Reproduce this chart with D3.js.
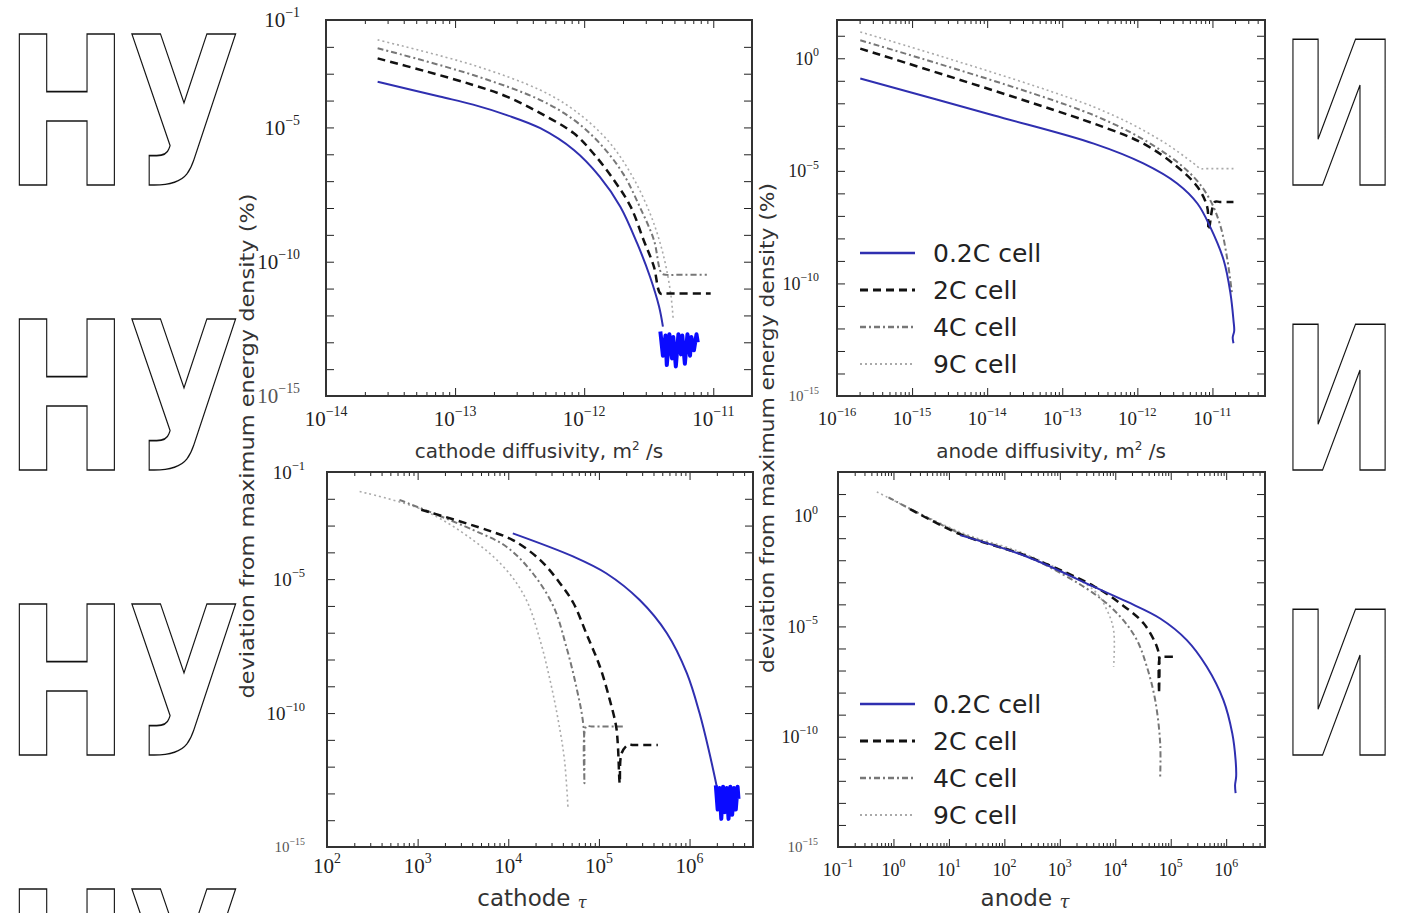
<!DOCTYPE html>
<html>
<head>
<meta charset="utf-8">
<script src="https://cdn.jsdelivr.net/npm/d3@7"></script>
<style>
body { margin: 0; background: #fff; }
svg { display: block; }
</style>
</head>
<body>
<div id="chart"></div>
<script>
// every point is [log10(x), log10(y)]
var seriesNames = ["0.2C cell", "2C cell", "4C cell", "9C cell"];

// cathode diffusivity panel
var cathodeD_02 = [[-13.6,-3.30],[-13.12,-3.85],[-12.86,-4.15],[-12.6,-4.54],[-12.34,-5.03],[-12.08,-5.84],[-11.88,-6.83],[-11.72,-7.95],[-11.59,-9.31],[-11.49,-10.56],[-11.42,-11.67],[-11.39,-12.42]];
var cathodeD_2 = [[-13.6,-2.43],[-13.22,-2.92],[-12.86,-3.42],[-12.6,-3.85],[-12.34,-4.47],[-12.08,-5.22],[-11.93,-5.96],[-11.77,-6.96],[-11.64,-7.95],[-11.54,-9.19],[-11.46,-10.18],[-11.41,-11.18],[-11.37,-11.18],[-11.02,-11.18]];
var cathodeD_4 = [[-13.6,-2.05],[-12.86,-3.05],[-12.34,-3.98],[-12.08,-4.72],[-11.88,-5.59],[-11.70,-6.71],[-11.57,-7.95],[-11.46,-9.19],[-11.40,-10.43],[-11.36,-10.49],[-11.30,-10.49],[-11.05,-10.49]];
var cathodeD_9 = [[-13.6,-1.74],[-12.86,-2.68],[-12.34,-3.61],[-12.08,-4.35],[-11.82,-5.47],[-11.64,-6.71],[-11.49,-8.2],[-11.39,-9.69],[-11.33,-11.18],[-11.31,-12.17]];
var cathodeD_noise = [[-11.41,-12.6],[-11.39,-13.5],[-11.37,-12.75],[-11.36,-13.85],[-11.34,-12.7],[-11.32,-13.6],[-11.31,-12.8],[-11.29,-13.9],[-11.27,-12.7],[-11.25,-13.45],[-11.24,-12.75],[-11.22,-13.8],[-11.20,-12.7],[-11.18,-13.5],[-11.17,-12.8],[-11.15,-13.3],[-11.13,-12.7],[-11.12,-13.0]];

// anode diffusivity panel
var anodeD_02 = [[-15.69,-0.90],[-13.92,-2.53],[-12.58,-3.79],[-11.92,-4.67],[-11.47,-5.56],[-11.20,-6.45],[-11.03,-7.49],[-10.85,-8.97],[-10.76,-10.44],[-10.72,-11.63],[-10.71,-12.1],[-10.73,-12.4],[-10.72,-12.66]];
var anodeD_2 = [[-15.69,0.43],[-12.58,-2.90],[-11.92,-3.79],[-11.47,-4.82],[-11.20,-5.71],[-11.07,-6.60],[-11.05,-7.63],[-10.97,-6.38],[-10.90,-6.38],[-10.72,-6.38]];
var anodeD_4 = [[-15.69,0.80],[-12.58,-2.53],[-11.69,-4.08],[-11.25,-5.27],[-11.03,-6.30],[-10.89,-7.49],[-10.80,-8.97],[-10.74,-10.44]];
var anodeD_9 = [[-15.69,1.17],[-12.58,-2.16],[-11.69,-3.64],[-11.25,-4.67],[-11.16,-4.9],[-11.1,-4.9],[-10.72,-4.9]];

// cathode tau panel
var cathodeTau_02 = [[4.05,-3.29],[4.72,-4.16],[5.08,-4.78],[5.45,-5.78],[5.75,-7.02],[5.97,-8.51],[6.11,-10.0],[6.22,-11.50],[6.30,-12.74]];
var cathodeTau_2 = [[3.04,-2.41],[3.76,-3.16],[4.05,-3.54],[4.35,-4.28],[4.57,-5.15],[4.72,-5.90],[4.86,-7.02],[5.01,-8.26],[5.12,-9.51],[5.19,-10.50],[5.21,-11.25],[5.23,-12.62],[5.25,-11.5],[5.32,-11.19],[5.38,-11.19],[5.65,-11.19]];
var cathodeTau_4 = [[2.80,-2.04],[3.61,-3.16],[3.98,-3.79],[4.27,-4.78],[4.50,-6.03],[4.64,-7.52],[4.75,-9.01],[4.83,-10.50],[4.84,-12.62],[4.86,-10.5],[4.92,-10.5],[5.27,-10.5]];
var cathodeTau_9 = [[2.36,-1.73],[3.06,-2.42],[3.61,-3.54],[3.98,-4.66],[4.20,-5.78],[4.35,-7.27],[4.46,-8.76],[4.55,-10.25],[4.62,-11.75],[4.66,-13.61]];
var cathodeTau_noise = [[6.29,-12.7],[6.31,-13.6],[6.33,-12.8],[6.35,-13.95],[6.37,-12.75],[6.39,-13.7],[6.41,-12.8],[6.43,-13.95],[6.45,-12.75],[6.47,-13.8],[6.49,-12.8],[6.51,-13.6],[6.53,-12.75],[6.54,-13.2]];

// anode tau panel
var anodeTau_02 = [[1.20,-0.86],[2.41,-1.84],[3.61,-3.20],[4.21,-3.88],[4.81,-4.64],[5.29,-5.62],[5.65,-6.83],[5.95,-8.34],[6.11,-9.85],[6.17,-11.06],[6.18,-11.8],[6.16,-12.2],[6.17,-12.56]];
var anodeTau_2 = [[0.30,0.32],[1.20,-0.82],[2.41,-1.82],[3.61,-3.17],[4.09,-3.96],[4.51,-4.86],[4.75,-5.92],[4.79,-6.38],[4.79,-8.03],[4.81,-6.38],[4.86,-6.38],[5.11,-6.38]];
var anodeTau_4 = [[-0.09,0.85],[1.20,-0.78],[2.41,-1.82],[3.61,-3.50],[4.09,-4.56],[4.39,-5.62],[4.57,-6.83],[4.72,-8.34],[4.81,-10.30],[4.81,-11.81]];
var anodeTau_9 = [[-0.30,1.10],[1.20,-0.72],[2.41,-1.75],[3.61,-3.35],[3.85,-4.26],[3.97,-5.17],[3.97,-6.83]];

// tick labels (exponents)
var cathodeDTicks = [-14, -13, -12, -11];
var anodeDTicks = [-16, -15, -14, -13, -12, -11];
var cathodeTauTicks = [2, 3, 4, 5, 6];
var anodeTauTicks = [-1, 0, 1, 2, 3, 4, 5, 6];
var yTicksCathode = [-1, -5, -10, -15];
var yTicksAnode = [0, -5, -10, -15];

var yTitle = "deviation from maximum energy density (%)";

var styles = [
	{ color: "#2f2fb0", width: 2, dash: null },
	{ color: "#111", width: 2.5, dash: "8,5" },
	{ color: "#777", width: 2, dash: "6,3,2,3" },
	{ color: "#aaa", width: 1.6, dash: "2,3" }
];

var panels = [
	{ left: 326, top: 20, right: 752, bottom: 396, xDom: [-14, -10.7], yDom: [-15, -1],
	  xTicks: cathodeDTicks, yTicks: yTicksCathode, xFont: 21, yFont: 21, yEnd: 26, xDy: 30,
	  series: [cathodeD_02, cathodeD_2, cathodeD_4, cathodeD_9], noise: cathodeD_noise, legend: null },
	{ left: 837, top: 20, right: 1265, bottom: 396, xDom: [-16, -10.3], yDom: [-15, 1.7],
	  xTicks: anodeDTicks, yTicks: yTicksAnode, xFont: 19, yFont: 18, yEnd: 18, xDy: 29,
	  series: [anodeD_02, anodeD_2, anodeD_4, anodeD_9], noise: null, legend: 253 },
	{ left: 327, top: 472, right: 753, bottom: 847, xDom: [2, 6.7], yDom: [-15, -1],
	  xTicks: cathodeTauTicks, yTicks: yTicksCathode, xFont: 21, yFont: 19, yEnd: 22, xDy: 26,
	  series: [cathodeTau_02, cathodeTau_2, cathodeTau_4, cathodeTau_9], noise: cathodeTau_noise, legend: null },
	{ left: 838, top: 472, right: 1265, bottom: 847, xDom: [-1, 6.7], yDom: [-15, 2],
	  xTicks: anodeTauTicks, yTicks: yTicksAnode, xFont: 18, yFont: 18, yEnd: 20, xDy: 29,
	  series: [anodeTau_02, anodeTau_2, anodeTau_4, anodeTau_9], noise: null, legend: 704 }
];

var svg = d3.select("#chart").append("svg")
	.attr("width", 1405)
	.attr("height", 913);

function p10(e) { return Math.pow(10, e); }

function powLabel(text, exp, size) {
	text.append("tspan").text("10");
	text.append("tspan")
		.attr("dy", -0.48 * size)
		.attr("font-size", size * 0.66)
		.text(exp < 0 ? "\u2212" + (-exp) : "" + exp);
}

panels.forEach(function(p, i) {
	var xScale = d3.scaleLog().domain([p10(p.xDom[0]), p10(p.xDom[1])]).range([p.left, p.right]);
	var yScale = d3.scaleLog().domain([p10(p.yDom[0]), p10(p.yDom[1])]).range([p.bottom, p.top]);

	var major = d3.range(Math.ceil(p.xDom[0]), Math.floor(p.xDom[1]) + 1).map(p10);
	var minor = [];
	d3.range(Math.floor(p.xDom[0]), Math.ceil(p.xDom[1])).forEach(function(k) {
		for (var m = 2; m < 10; m++) {
			var v = m * p10(k);
			if (v > p10(p.xDom[0]) && v < p10(p.xDom[1])) minor.push(v);
		}
	});
	var yVals = d3.range(Math.ceil(p.yDom[0]), Math.floor(p.yDom[1]) + 1).map(p10);

	var g = svg.append("g").attr("class", "panel-" + i);

	// lines, clipped to the frame
	var clipId = "clip" + i;
	svg.append("clipPath").attr("id", clipId).append("rect")
		.attr("x", p.left).attr("y", p.top)
		.attr("width", p.right - p.left).attr("height", p.bottom - p.top);

	var line = d3.line()
		.curve(d3.curveCatmullRom.alpha(0.5))
		.x(function(d) { return xScale(p10(d[0])); })
		.y(function(d) { return yScale(p10(d[1])); });
	var jagged = d3.line()
		.x(function(d) { return xScale(p10(d[0])); })
		.y(function(d) { return yScale(p10(d[1])); });

	var lines = g.append("g").attr("clip-path", "url(#" + clipId + ")");
	for (var s = p.series.length - 1; s >= 0; s--) {
		lines.append("path")
			.datum(p.series[s])
			.attr("d", line)
			.attr("fill", "none")
			.attr("stroke", styles[s].color)
			.attr("stroke-width", styles[s].width)
			.attr("stroke-dasharray", styles[s].dash);
	}
	if (p.noise) {
		lines.append("path")
			.datum(p.noise)
			.attr("d", jagged)
			.attr("fill", "none")
			.attr("stroke", "#0a0aff")
			.attr("stroke-width", 4)
			.attr("stroke-linejoin", "round");
	}

	// ticks, pointing inward on all sides
	function axisTicks(axis, transform) {
		g.append("g")
			.attr("transform", transform)
			.attr("color", "#222")
			.call(axis.tickFormat("").tickSizeOuter(0))
			.call(function(a) { a.select(".domain").remove(); });
	}
	axisTicks(d3.axisBottom(xScale).tickValues(major).tickSize(-8), "translate(0," + p.bottom + ")");
	axisTicks(d3.axisBottom(xScale).tickValues(minor).tickSize(-4), "translate(0," + p.bottom + ")");
	axisTicks(d3.axisTop(xScale).tickValues(major).tickSize(-8), "translate(0," + p.top + ")");
	axisTicks(d3.axisTop(xScale).tickValues(minor).tickSize(-4), "translate(0," + p.top + ")");
	axisTicks(d3.axisLeft(yScale).tickValues(yVals).tickSize(-8), "translate(" + p.left + ",0)");
	axisTicks(d3.axisRight(yScale).tickValues(yVals).tickSize(-8), "translate(" + p.right + ",0)");

	// tick labels
	p.xTicks.forEach(function(e) {
		var t = g.append("text")
			.attr("x", xScale(p10(e)))
			.attr("y", p.bottom + p.xDy)
			.attr("text-anchor", "middle")
			.attr("font-family", "Liberation Serif")
			.attr("font-size", p.xFont)
			.attr("fill", "#222");
		powLabel(t, e, p.xFont);
	});
	p.yTicks.forEach(function(e) {
		var small = (e === -15 && i > 0);
		var fs = small ? 15 : p.yFont;
		var t = g.append("text")
			.attr("x", p.left - p.yEnd)
			.attr("y", yScale(p10(e)) + fs * 0.35)
			.attr("text-anchor", "end")
			.attr("font-family", "Liberation Serif")
			.attr("font-size", fs)
			.attr("fill", e === -15 ? "#555" : "#222");
		powLabel(t, e, fs);
	});

	// frame
	g.append("rect")
		.attr("x", p.left).attr("y", p.top)
		.attr("width", p.right - p.left).attr("height", p.bottom - p.top)
		.attr("fill", "none")
		.attr("stroke", "#333")
		.attr("stroke-width", 2);

	// legend
	if (p.legend !== null) {
		seriesNames.forEach(function(name, s) {
			var ly = p.legend + s * 37;
			g.append("line")
				.attr("x1", 860).attr("x2", 915)
				.attr("y1", ly).attr("y2", ly)
				.attr("stroke", styles[s].color)
				.attr("stroke-width", styles[s].width + 0.5)
				.attr("stroke-dasharray", styles[s].dash);
			g.append("text")
				.attr("x", 933).attr("y", ly + 9)
				.attr("font-family", "DejaVu Sans")
				.attr("font-size", 25)
				.attr("fill", "#222")
				.text(name);
		});
	}
});

// axis titles
function xTitle(x, y, size) {
	return svg.append("text")
		.attr("x", x).attr("y", y)
		.attr("text-anchor", "middle")
		.attr("font-family", "DejaVu Sans")
		.attr("font-size", size)
		.attr("fill", "#333");
}
var t1 = xTitle(539, 458, 20);
t1.append("tspan").text("cathode diffusivity, m");
t1.append("tspan").attr("dy", -8).attr("font-size", 12).text("2");
t1.append("tspan").attr("dy", 8).text(" /s");
var t2 = xTitle(1051, 458, 20);
t2.append("tspan").text("anode diffusivity, m");
t2.append("tspan").attr("dy", -8).attr("font-size", 12).text("2");
t2.append("tspan").attr("dy", 8).text(" /s");
var t3 = xTitle(532, 906, 23);
t3.append("tspan").text("cathode ");
t3.append("tspan").attr("font-family", "DejaVu Serif").attr("font-style", "italic").attr("font-size", 16).attr("dy", 2).text("\u03c4");
var t4 = xTitle(1025, 906, 23);
t4.append("tspan").text("anode ");
t4.append("tspan").attr("font-family", "DejaVu Serif").attr("font-style", "italic").attr("font-size", 18).attr("dy", 2).text("\u03c4");

[[248, 446, 505], [768, 428, 490]].forEach(function(c) {
	svg.append("text")
		.attr("transform", "translate(" + c[0] + "," + c[1] + ") rotate(-90)")
		.attr("text-anchor", "middle")
		.attr("font-family", "DejaVu Sans")
		.attr("font-size", 19)
		.attr("textLength", c[2])
		.attr("lengthAdjust", "spacingAndGlyphs")
		.attr("dy", 6)
		.attr("fill", "#333")
		.text(yTitle);
});

// outlined watermark letters at the sides
[35, 320, 605, 890].forEach(function(top) {
	svg.append("text")
		.attr("x", 6).attr("y", top + 150)
		.attr("font-family", "DejaVu Sans")
		.attr("font-weight", "bold")
		.attr("font-size", 206)
		.attr("textLength", 234)
		.attr("lengthAdjust", "spacingAndGlyphs")
		.attr("fill", "#fff")
		.attr("stroke", "#111")
		.attr("stroke-width", 1.6)
		.text("\u041d\u0423");
});
[40, 325, 610].forEach(function(top) {
	svg.append("text")
		.attr("x", 1280).attr("y", top + 145)
		.attr("font-family", "DejaVu Sans")
		.attr("font-weight", "bold")
		.attr("font-size", 199)
		.attr("textLength", 118)
		.attr("lengthAdjust", "spacingAndGlyphs")
		.attr("fill", "#fff")
		.attr("stroke", "#111")
		.attr("stroke-width", 1.6)
		.text("\u0418");
});
</script>
</body>
</html>
